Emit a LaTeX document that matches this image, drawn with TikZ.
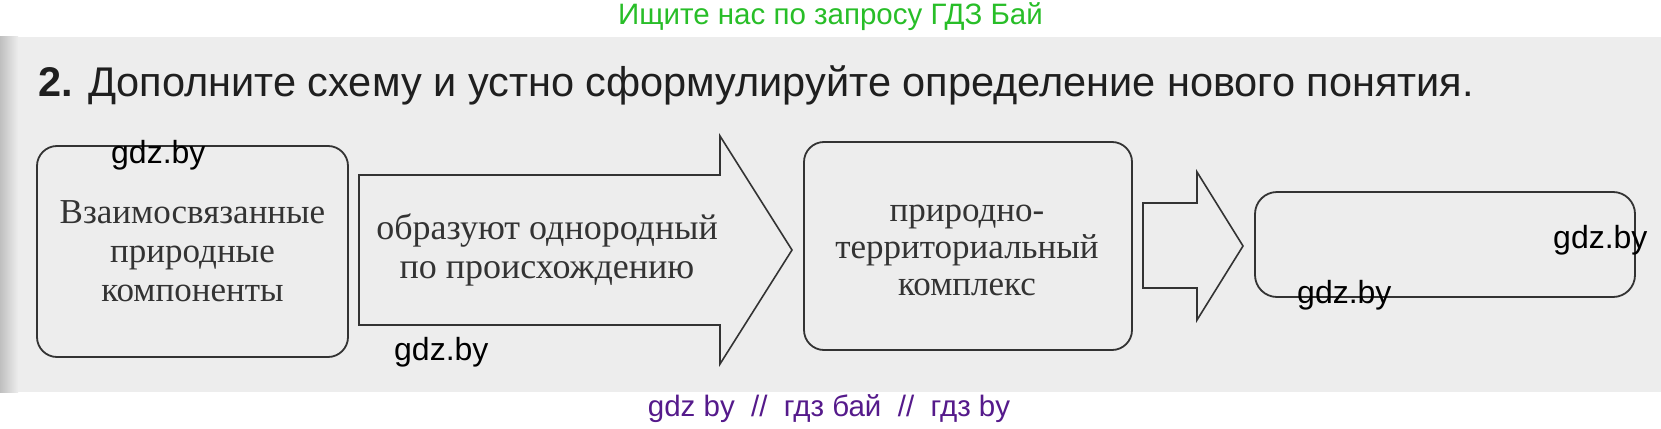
\documentclass[tikz,border=0pt]{standalone}
\usepackage{fontspec}
\setmainfont{Liberation Serif}
\newfontfamily\sansf{Liberation Sans}
\definecolor{bandgray}{HTML}{EDEDED}
\definecolor{linegray}{HTML}{333333}
\definecolor{wmgreen}{RGB}{40,190,40}
\definecolor{wmpurple}{HTML}{551A8B}
\begin{document}
\begin{tikzpicture}[x=1pt,y=-1pt,
  box/.style={draw=linegray, line width=1.8pt, rounded corners=20pt, inner sep=0pt,
    align=center, text=black!80, font=\fontsize{35}{39}\selectfont},
  blockarrow/.style={draw=linegray, line width=1.6pt, line join=miter},
  arrowtext/.style={align=center, inner sep=0pt, text=black!80, font=\fontsize{36}{39}\selectfont},
  wm/.style={font=\sansf\fontsize{32}{32}\selectfont, anchor=base west, inner sep=0pt, text=black},
  banner/.style={font=\sansf\fontsize{29.5}{30}\selectfont, anchor=base, inner sep=0pt}]
\useasboundingbox (0,0) rectangle (1661,428);
\fill[white] (0,0) rectangle (1661,428);
\fill[bandgray] (0,37) rectangle (1661,392);
\shade[left color=gray!50, right color=bandgray] (0,37) rectangle (18,392);
% title
\node[anchor=base west, inner sep=0pt, font=\sansf\fontsize{41.5}{44}\selectfont, text=black!88]
  (title) at (38,96) {\textbf{2.} Дополните схему и устно сформулируйте определение нового понятия.};
% box 1
\node[box, minimum width=311pt, minimum height=211pt] (b1) at (192.5,251.5)
  {Взаимосвязанные\\природные\\компоненты};
% arrow 1
\draw[blockarrow] (359,175) -- (720,175) -- (720,136) -- (792,250) -- (720,364) -- (720,325) -- (359,325) -- cycle;
\node[arrowtext] (a1) at (547,250) {образуют однородный\\по происхождению};
% box 3
\node[box, minimum width=328pt, minimum height=208pt] (b3) at (968,246) {};
\node[align=center, inner sep=0pt, text=black!80, font=\fontsize{35}{37}\selectfont] (b3text) at (967,250)
  {природно-\\территориальный\\комплекс};
% arrow 2
\draw[blockarrow] (1143,203) -- (1197,203) -- (1197,172) -- (1243,246) -- (1197,320) -- (1197,288) -- (1143,288) -- cycle;
% box 4
\node[box, rounded corners=22pt, minimum width=380pt, minimum height=105pt] (b4) at (1445,244.5) {};
% watermarks
\node[wm] (w1) at (111,163) {gdz.by};
\node[wm] (w2) at (394,360) {gdz.by};
\node[wm] (w3) at (1553,248) {gdz.by};
\node[wm] (w4) at (1297,303) {gdz.by};
\node[banner, text=wmgreen] (top) at (830.5,25) {Ищите нас по запросу ГДЗ Бай};
\node[banner, text=wmpurple] (bottom) at (829,416) {gdz by\ \ //\ \ гдз бай\ \ //\ \ гдз by};
\end{tikzpicture}
\end{document}
